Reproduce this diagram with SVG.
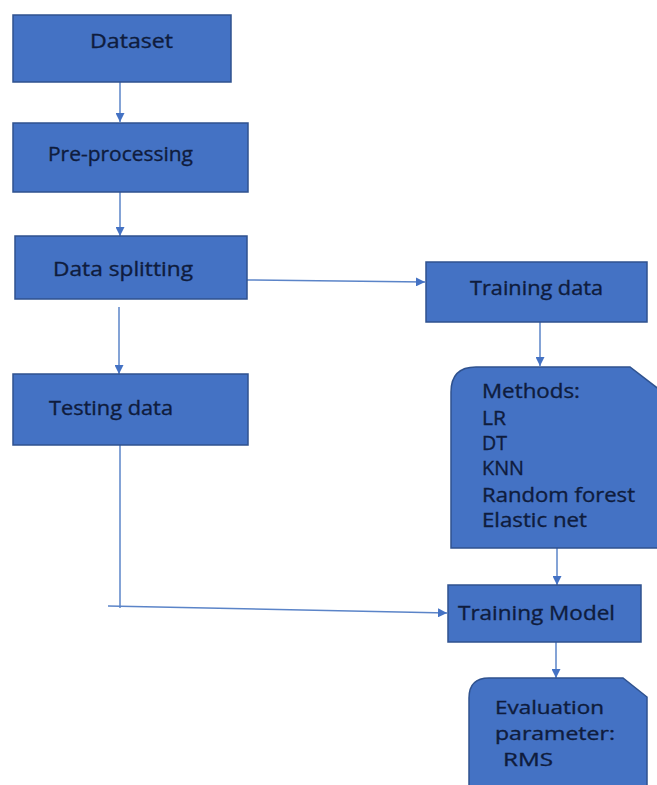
<svg xmlns="http://www.w3.org/2000/svg" width="657" height="785" viewBox="0 0 657 785">
<defs>
<style>
.box{fill:#4472C4;stroke:#2F528F;stroke-width:1.5}
.lbl{font-family:"Open Sans","Liberation Sans",sans-serif;font-size:19.5px;fill:#0f1c3d;stroke:#0f1c3d;stroke-width:0.35}
.sm{font-size:18px}
.con{stroke:#5B84C8;stroke-width:1.5;fill:none}
</style>
<marker id="ah" viewBox="0 0 10 10" refX="10" refY="5" markerWidth="9" markerHeight="9" markerUnits="userSpaceOnUse" orient="auto">
<path d="M0,0 L10,5 L0,10 Z" fill="#4472C4"/>
</marker>
</defs>
<rect width="657" height="785" fill="#ffffff"/>
<g id="connectors">
<line class="con" x1="120" y1="82" x2="120" y2="122" marker-end="url(#ah)"/>
<line class="con" x1="120" y1="192" x2="120" y2="236" marker-end="url(#ah)"/>
<line class="con" x1="119" y1="307" x2="119" y2="374" marker-end="url(#ah)"/>
<line class="con" x1="247" y1="280" x2="425" y2="282" marker-end="url(#ah)"/>
<line class="con" x1="540" y1="322" x2="540" y2="366" marker-end="url(#ah)"/>
<line class="con" x1="120" y1="445" x2="120" y2="608"/>
<line class="con" x1="108" y1="606" x2="447" y2="613" marker-end="url(#ah)"/>
<line class="con" x1="557" y1="548" x2="557" y2="585" marker-end="url(#ah)"/>
<line class="con" x1="556" y1="642" x2="556" y2="678" marker-end="url(#ah)"/>
</g>
<g id="dataset">
<rect class="box" x="13" y="15" width="218" height="67"/>
<text class="lbl" x="90" y="48" textLength="83" lengthAdjust="spacingAndGlyphs">Dataset</text>
</g>
<g id="preprocessing">
<rect class="box" x="13" y="123" width="235" height="69"/>
<text class="lbl" x="48" y="161" textLength="145" lengthAdjust="spacingAndGlyphs">Pre-processing</text>
</g>
<g id="datasplitting">
<rect class="box" x="15" y="236" width="232" height="63"/>
<text class="lbl" x="53" y="276" textLength="140" lengthAdjust="spacingAndGlyphs">Data splitting</text>
</g>
<g id="testingdata">
<rect class="box" x="13" y="374" width="235" height="71"/>
<text class="lbl" x="49" y="415" textLength="124" lengthAdjust="spacingAndGlyphs">Testing data</text>
</g>
<g id="trainingdata">
<rect class="box" x="426" y="262" width="221" height="60"/>
<text class="lbl" x="470" y="295" textLength="133" lengthAdjust="spacingAndGlyphs">Training data</text>
</g>
<g id="methods">
<path class="box" d="M451,548 L451,392 Q451,367 476,367 L630,367 L660,390 L660,548 Z"/>
<text class="lbl" x="482" y="398" textLength="98" lengthAdjust="spacingAndGlyphs">Methods:</text>
<text class="lbl" x="482" y="425" textLength="24" lengthAdjust="spacingAndGlyphs">LR</text>
<text class="lbl" x="482" y="450" textLength="25" lengthAdjust="spacingAndGlyphs">DT</text>
<text class="lbl" x="482" y="475" textLength="42" lengthAdjust="spacingAndGlyphs">KNN</text>
<text class="lbl" x="482" y="502" textLength="153" lengthAdjust="spacingAndGlyphs">Random forest</text>
<text class="lbl" x="482" y="527" textLength="105" lengthAdjust="spacingAndGlyphs">Elastic net</text>
</g>
<g id="trainingmodel">
<rect class="box" x="448" y="585" width="193" height="57"/>
<text class="lbl" x="458" y="620" textLength="157" lengthAdjust="spacingAndGlyphs">Training Model</text>
</g>
<g id="evaluation">
<path class="box" d="M469,790 L469,698 Q469,678 489,678 L623,678 L647,697 L647,790 Z"/>
<text class="lbl sm" x="495" y="714" textLength="109" lengthAdjust="spacingAndGlyphs">Evaluation</text>
<text class="lbl sm" x="495" y="740" textLength="120" lengthAdjust="spacingAndGlyphs">parameter:</text>
<text class="lbl sm" x="503" y="766" textLength="50" lengthAdjust="spacingAndGlyphs">RMS</text>
</g>
</svg>
